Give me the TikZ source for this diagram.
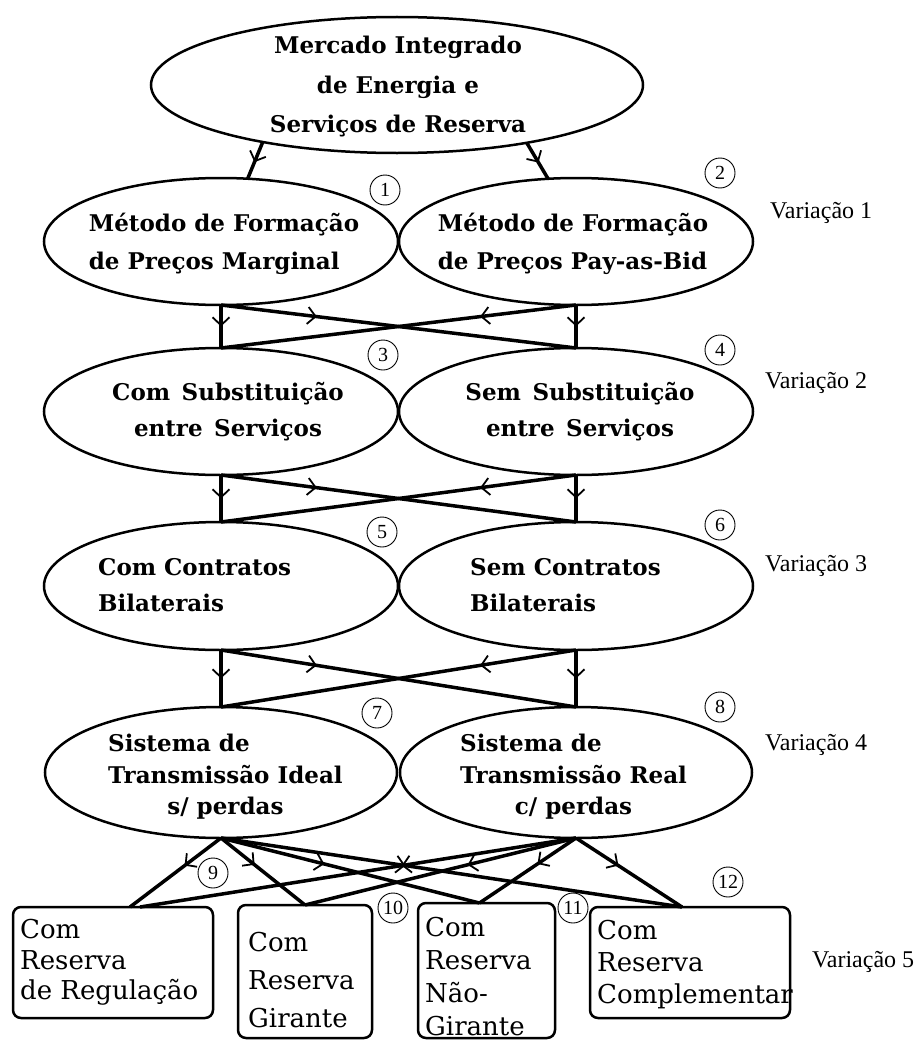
\documentclass[tikz,border=0pt]{standalone}
\usepackage{fontspec}
\setmainfont{DejaVu Serif}
\newfontfamily\varfont{Liberation Serif}
\usetikzlibrary{shapes.geometric,arrows.meta,decorations.markings}
\begin{document}
\begin{tikzpicture}[x=1pt,y=-1pt,
  ell/.style={ellipse, draw, line width=2.5pt, inner sep=0pt, outer sep=0pt},
  lvl/.style={ell, minimum width=354pt, minimum height=127pt},
  etext/.style={inner sep=0pt, font=\fontsize{23}{38}\selectfont\bfseries},
  box/.style={draw, rounded corners=8pt, line width=2.5pt, inner sep=0pt, outer sep=0pt},
  btext/.style={inner sep=0pt, anchor=west, align=left},
  num/.style={circle, draw, line width=0.9pt, minimum size=30pt, inner sep=0pt, font=\varfont\fontsize{20}{20}\selectfont},
  vtext/.style={inner sep=0pt, anchor=west, font=\varfont\fontsize{24}{24}\selectfont},
  conn/.style={line width=3.5pt},
  midarr/.style={postaction={decorate}, decoration={markings, mark=at position #1 with {\arrow{Straight Barb[length=8pt,width=17pt,line width=1.8pt]}}}}
]
\useasboundingbox (0,0) rectangle (922,1041);

% top
\node[ell, minimum width=492pt, minimum height=136pt] (top) at (397,85) {};
\node[etext, align=center, font=\fontsize{23}{39.5}\selectfont\bfseries] (toptxt) at (398,87) {Mercado Integrado\\de Energia e\\Serviços de Reserva};

% level 1
\node[lvl] (L1) at (221,241.5) {};
\node[lvl] (R1) at (576,241.5) {};
\node[etext, align=left] (L1t) at (224,244) {Método de Formação\\de Preços Marginal};
\node[etext, align=left] (R1t) at (573,244) {Método de Formação\\de Preços Pay-as-Bid};

% level 2
\node[lvl] (L2) at (221,411.5) {};
\node[lvl] (R2) at (576,411.5) {};
\node[etext, align=center, font=\fontsize{23}{36}\selectfont\bfseries] (L2t) at (228,412) {Com\enspace Substituição\\entre\enspace Serviços};
\node[etext, align=center, font=\fontsize{23}{36}\selectfont\bfseries] (R2t) at (580,412) {Sem\enspace Substituição\\entre\enspace Serviços};

% level 3
\node[lvl, minimum height=128pt] (L3) at (221,586) {};
\node[lvl, minimum height=128pt] (R3) at (576,586) {};
\node[etext, align=left, anchor=west, font=\fontsize{23}{36}\selectfont\bfseries] (L3t) at (98,585) {Com Contratos\\Bilaterais};
\node[etext, align=left, anchor=west, font=\fontsize{23}{36}\selectfont\bfseries] (R3t) at (470,585) {Sem Contratos\\Bilaterais};

% level 4
\node[ell, minimum width=352pt, minimum height=131pt] (L4) at (221,772.5) {};
\node[ell, minimum width=352pt, minimum height=131pt] (R4) at (576,772.5) {};
\node[etext, anchor=west, font=\fontsize{23}{31.5}\selectfont\bfseries] (L4t) at (108,777) {\begin{tabular}{@{}l@{}}Sistema de\\Transmissão Ideal\\\multicolumn{1}{@{}c@{}}{s/ perdas}\end{tabular}};
\node[etext, anchor=west, font=\fontsize{23}{31.5}\selectfont\bfseries] (R4t) at (460,777) {\begin{tabular}{@{}l@{}}Sistema de\\Transmissão Real\\\multicolumn{1}{@{}c@{}}{c/ perdas}\end{tabular}};

% boxes
\node[box, minimum width=200pt, minimum height=111pt] (b1) at (113,962.5) {};
\node[box, minimum width=134pt, minimum height=133pt] (b2) at (305,971.5) {};
\node[box, minimum width=137pt, minimum height=135pt] (b3) at (486.5,970.5) {};
\node[box, minimum width=200pt, minimum height=111pt] (b4) at (690,962.5) {};
\node[btext, font=\fontsize{26}{30.5}\selectfont] (b1t) at (20,962.5) {Com\\Reserva\\de Regulação};
\node[btext, font=\fontsize{26}{38}\selectfont] (b2t) at (248,980) {Com\\Reserva\\Girante};
\node[btext, font=\fontsize{26}{33}\selectfont] (b3t) at (425,977) {Com\\Reserva\\Não-\\Girante};
\node[btext, font=\fontsize{26}{32}\selectfont] (b4t) at (597,964.5) {Com\\Reserva\\Complementar};

% connectors top
\draw[conn, midarr=0.55] (top.203.7) -- (L1.67.7);
\draw[conn, midarr=0.55] (top.336) -- (R1.114.5);

% level 1 -> 2
\draw[conn, midarr=0.5] (L1.south) -- (L2.north);
\draw[conn, midarr=0.5] (R1.south) -- (R2.north);
\draw[conn, midarr=0.27] (L1.south) -- (R2.north);
\draw[conn, midarr=0.27] (R1.south) -- (L2.north);
% level 2 -> 3
\draw[conn, midarr=0.5] (L2.south) -- (L3.north);
\draw[conn, midarr=0.5] (R2.south) -- (R3.north);
\draw[conn, midarr=0.27] (L2.south) -- (R3.north);
\draw[conn, midarr=0.27] (R2.south) -- (L3.north);
% level 3 -> 4
\draw[conn, midarr=0.5] (L3.south) -- (L4.north);
\draw[conn, midarr=0.5] (R3.south) -- (R4.north);
\draw[conn, midarr=0.27] (L3.south) -- (R4.north);
\draw[conn, midarr=0.27] (R3.south) -- (L4.north);
% level 4 -> boxes
\draw[conn, midarr=0.4] (L4.south) -- ([xshift=17pt]b1.north);
\draw[conn, midarr=0.4] (L4.south) -- (b2.north);
\draw[conn, midarr=0.4] (L4.south) -- ([xshift=-7pt]b3.north);
\draw[conn, midarr=0.4] (L4.south) -- ([xshift=-8pt]b4.north);
\draw[conn, midarr=0.4] (R4.south) -- ([xshift=27pt]b1.north);
\draw[conn, midarr=0.4] (R4.south) -- (b2.north);
\draw[conn, midarr=0.4] (R4.south) -- ([xshift=-7pt]b3.north);
\draw[conn, midarr=0.4] (R4.south) -- ([xshift=-8pt]b4.north);

% numbers
\node[num] (n1) at (385,190) {1};
\node[num] (n2) at (720,173) {2};
\node[num] (n3) at (383,355) {3};
\node[num] (n4) at (720,350) {4};
\node[num] (n5) at (382,532) {5};
\node[num] (n6) at (720,525) {6};
\node[num] (n7) at (377,713) {7};
\node[num] (n8) at (720,707) {8};
\node[num] (n9) at (213,873) {9};
\node[num] (n10) at (393,908) {10};
\node[num] (n11) at (573,908) {11};
\node[num] (n12) at (728,882) {12};

% variation labels
\node[vtext] (v1) at (770,213) {Variação 1};
\node[vtext] (v2) at (765,383) {Variação 2};
\node[vtext] (v3) at (765,566) {Variação 3};
\node[vtext] (v4) at (765,745) {Variação 4};
\node[vtext] (v5) at (812,962) {Variação 5};
\end{tikzpicture}
\end{document}
